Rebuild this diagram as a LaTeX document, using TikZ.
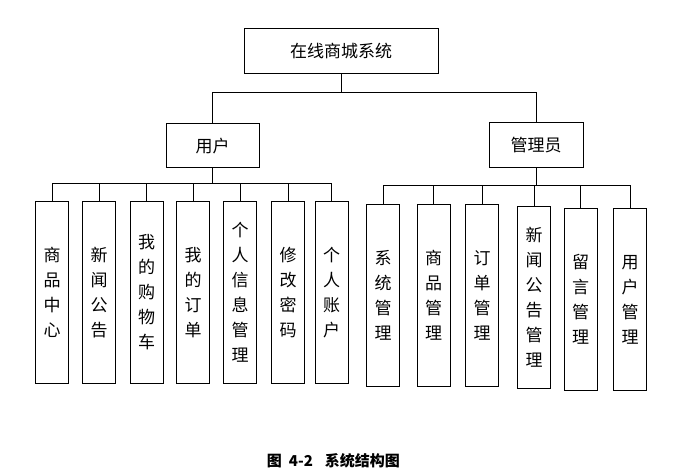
\documentclass[tikz,border=0pt]{standalone}
\usepackage{fontspec}
\setmainfont{Noto Sans CJK SC}
\usetikzlibrary{positioning}

\begin{document}
\begin{tikzpicture}[x=1pt, y=1pt, auto,
                    box/.style={draw, rectangle, line width=1pt, inner sep=0pt, align=center,
                                font=\fontsize{17}{25}\selectfont},
                    leaf/.style={box, minimum width=33pt, minimum height=181pt},
                    line/.style={draw, line width=0.9pt}]
    \useasboundingbox (0,0) rectangle (678,-476);
    % Nodes
    \node [box, minimum width=194pt, minimum height=45pt] (sys) at (341,-51.5) {在线商城系统};
    \node [box, minimum width=93pt, minimum height=44pt, below=49pt of sys, xshift=-128.5pt] (user)  {用户};
    \node [box, minimum width=94pt, minimum height=45pt, below=48pt of sys, xshift=195pt]    (admin) {管理员};

    \node [leaf, below=33pt of user, xshift=-160.5pt] (goods)   {商\\品\\中\\心};
    \node [leaf, below=33pt of user, xshift=-113.5pt] (news)    {新\\闻\\公\\告};
    \node [leaf, below=33pt of user, xshift=-66pt]    (cart)    {我\\的\\购\\物\\车};
    \node [leaf, below=33pt of user, xshift=-19.5pt]  (order)   {我\\的\\订\\单};
    \node [leaf, below=33pt of user, xshift=27.5pt]   (info)    {个\\人\\信\\息\\管\\理};
    \node [leaf, below=33pt of user, xshift=75.5pt]   (passwd)  {修\\改\\密\\码};
    \node [leaf, below=33pt of user, xshift=119pt]    (account) {个\\人\\账\\户};

    \node [leaf, below=36pt of admin, xshift=-153pt]   (sysmgr)   {系\\统\\管\\理};
    \node [leaf, below=36pt of admin, xshift=-102.5pt] (goodsmgr) {商\\品\\管\\理};
    \node [leaf, below=36pt of admin, xshift=-54pt]    (ordermgr) {订\\单\\管\\理};
    \node [leaf, below=38pt of admin, xshift=-2pt]     (newsmgr)  {新\\闻\\公\\告\\管\\理};
    \node [leaf, below=40pt of admin, xshift=44.5pt]   (msgmgr)   {留\\言\\管\\理};
    \node [leaf, below=40pt of admin, xshift=94pt]     (usermgr)  {用\\户\\管\\理};

    \node [font=\fontsize{15}{15}\selectfont\bfseries] (caption) at (333.5,-460.5)
          {图\hspace{7pt}4-2\hspace{12pt}系统结构图};

    % Paths
    \path [line] (sys.south) -- ++(0,-18) -| (user.north);
    \path [line] (sys.south) -- ++(0,-18) -| (admin.north);
    \foreach \leafnode in {goods, news, cart, order, info, passwd, account}
        \path [line] (user.south) -- ++(0,-15) -| (\leafnode.north);
    \foreach \leafnode in {sysmgr, goodsmgr, ordermgr, newsmgr, msgmgr, usermgr}
        \path [line] (admin.south) -- ++(0,-17) -| (\leafnode.north);
\end{tikzpicture}
\end{document}
